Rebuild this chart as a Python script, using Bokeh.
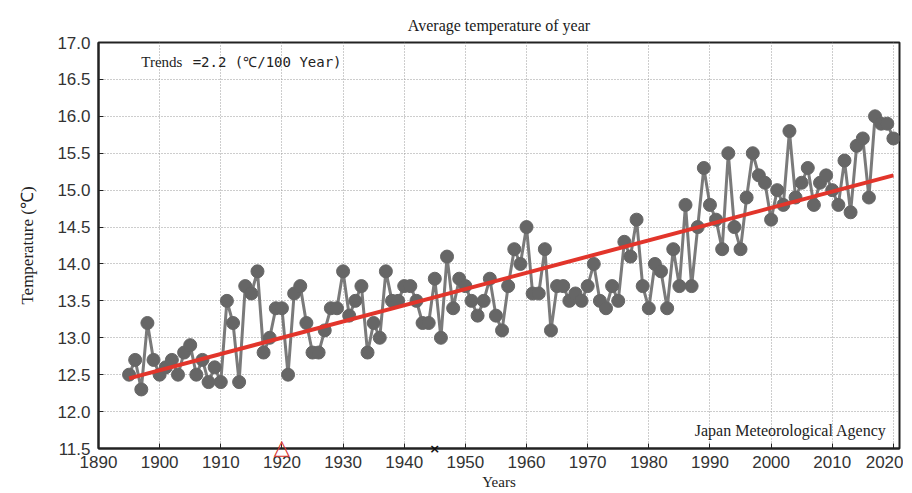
from bokeh.plotting import figure
from bokeh.models import (SingleIntervalTicker, NumeralTickFormatter,
                          Range1d, Label, Title, ColumnDataSource)
from bokeh.embed import file_html
from bokeh.resources import INLINE

years = list(range(1895, 2021))
temps = [
    12.5, 12.7, 12.3, 13.2, 12.7,            # 1895-1899
    12.5, 12.6, 12.7, 12.5, 12.8, 12.9, 12.5, 12.7, 12.4, 12.6,  # 1900-1909
    12.4, 13.5, 13.2, 12.4, 13.7, 13.6, 13.9, 12.8, 13.0, 13.4,  # 1910-1919
    13.4, 12.5, 13.6, 13.7, 13.2, 12.8, 12.8, 13.1, 13.4, 13.4,  # 1920-1929
    13.9, 13.3, 13.5, 13.7, 12.8, 13.2, 13.0, 13.9, 13.5, 13.5,  # 1930-1939
    13.7, 13.7, 13.5, 13.2, 13.2, 13.8, 13.0, 14.1, 13.4, 13.8,  # 1940-1949
    13.7, 13.5, 13.3, 13.5, 13.8, 13.3, 13.1, 13.7, 14.2, 14.0,  # 1950-1959
    14.5, 13.6, 13.6, 14.2, 13.1, 13.7, 13.7, 13.5, 13.6, 13.5,  # 1960-1969
    13.7, 14.0, 13.5, 13.4, 13.7, 13.5, 14.3, 14.1, 14.6, 13.7,  # 1970-1979
    13.4, 14.0, 13.9, 13.4, 14.2, 13.7, 14.8, 13.7, 14.5, 15.3,  # 1980-1989
    14.8, 14.6, 14.2, 15.5, 14.5, 14.2, 14.9, 15.5, 15.2, 15.1,  # 1990-1999
    14.6, 15.0, 14.8, 15.8, 14.9, 15.1, 15.3, 14.8, 15.1, 15.2,  # 2000-2009
    15.0, 14.8, 15.4, 14.7, 15.6, 15.7, 14.9, 16.0, 15.9, 15.9,  # 2010-2019
    15.7,                                                        # 2020
]
trend_years = [1895, 2020]
trend_values = [12.45, 15.2]
tri_year = [1920]
cross_year = [1945]
axis_base = [11.5]

SERIF = "Liberation Serif"
SANS = "Liberation Sans"

p = figure(width=903, height=493, output_backend="svg", toolbar_location=None,
           x_range=Range1d(1890, 2021), y_range=Range1d(11.5, 17.0),
           min_border_left=98, min_border_right=4, min_border_top=42,
           min_border_bottom=45)

p.title = Title(text="Average temperature of year", align="center",
                text_font=SERIF, text_font_size="16px", text_font_style="normal",
                text_color="#1a1a1a", standoff=18)

p.outline_line_color = "#222222"
p.outline_line_width = 2
p.background_fill_color = "white"

for ax in (p.xaxis[0], p.yaxis[0]):
    ax.axis_line_color = "#222222"
    ax.axis_line_width = 2
    ax.major_tick_in = 5
    ax.major_tick_out = 0
    ax.minor_tick_in = 0
    ax.minor_tick_out = 0
    ax.major_tick_line_color = "#222222"
    ax.major_label_text_font = SANS
    ax.major_label_text_font_size = "17px"
    ax.major_label_text_color = "#333333"
    ax.axis_label_text_font = SERIF
    ax.axis_label_text_font_style = "normal"
    ax.axis_label_text_color = "#222222"

p.xaxis.axis_label_text_font_size = "15px"
p.xaxis.ticker = SingleIntervalTicker(interval=10)
p.yaxis.ticker = SingleIntervalTicker(interval=0.5)
p.yaxis.formatter = NumeralTickFormatter(format="0.0")
p.xaxis.axis_label = "Years"
p.xaxis.major_label_standoff = 7
p.yaxis.major_label_standoff = 8
p.xaxis.axis_label_standoff = 3

p.xgrid.ticker = SingleIntervalTicker(interval=10)
p.ygrid.ticker = SingleIntervalTicker(interval=0.5)
for g in (p.xgrid[0], p.ygrid[0]):
    g.grid_line_color = "#9a9a9a"
    g.grid_line_dash = "1 2"
    g.grid_line_width = 1

src = ColumnDataSource(dict(year=years, temp=temps))
p.line("year", "temp", source=src, line_color="#7a7a7a", line_width=3)
p.scatter("year", "temp", source=src, size=13, fill_color="#666666",
          line_color="#666666")

p.line(trend_years, trend_values, line_color="#e2352b", line_width=4)

# y-axis title and the two markers that sit on the x-axis line live in the
# left side panel (side-panel annotations are not clipped to the frame)
ylab = Title(text="Temperature (℃)", align="center", text_font=SERIF,
             text_font_size="17px", text_font_style="normal",
             text_color="#222222", standoff=4)
tri = Label(x=tri_year[0], y=axis_base[0], text="△",
            text_font="DejaVu Sans", text_font_size="21px",
            text_color="#d9342b", text_align="center",
            text_baseline="middle", y_offset=2)
cross = Label(x=cross_year[0], y=axis_base[0], text="×",
              text_font="DejaVu Sans", text_font_size="13px",
              text_font_style="bold", text_color="#111111",
              text_align="center", text_baseline="middle")
p.left = [p.yaxis[0], tri, ylab, cross]

p.add_layout(Label(x=1897, y=16.73, text="Trends", text_font=SERIF,
                   text_font_size="15px", text_color="#222222",
                   text_baseline="middle"))
p.add_layout(Label(x=1905.4, y=16.73, text="=2.2 (℃/100 Year)",
                   text_font="DejaVu Sans Mono", text_font_size="14px",
                   text_color="#222222", text_baseline="middle"))
p.add_layout(Label(x=2018.9, y=11.74, text="Japan Meteorological Agency",
                   text_font=SERIF, text_font_size="16px", text_color="#222222",
                   text_align="right", text_baseline="middle"))

open("out.html", "w").write(file_html(p, INLINE))
